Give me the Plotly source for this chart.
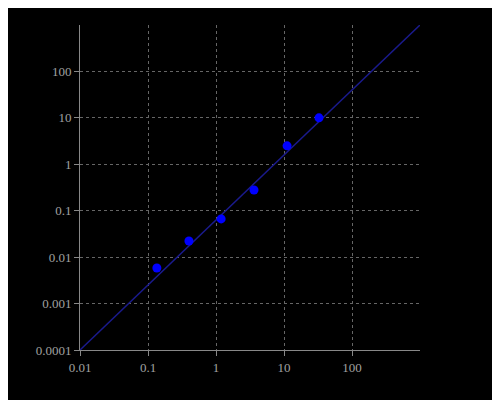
import plotly.graph_objects as go

x_pts = [0.135, 0.40, 1.19, 3.62, 11.1, 32.7]
y_pts = [0.00585, 0.0223, 0.0665, 0.28, 2.5, 10.0]
x_fit = [0.01, 1000]
y_fit = [0.0001, 1000]
x_ticks = [0.01, 0.1, 1, 10, 100]
x_labels = ["0.01", "0.1", "1", "10", "100"]
y_ticks = [0.0001, 0.001, 0.01, 0.1, 1, 10, 100]
y_labels = ["0.0001", "0.001", "0.01", "0.1", "1", "10", "100"]

fig = go.Figure()
fig.add_trace(go.Scatter(x=x_fit, y=y_fit, mode="lines",
                         line=dict(color="#1a1a8c", width=1.5), hoverinfo="skip"))
fig.add_trace(go.Scatter(x=x_pts, y=y_pts, mode="markers",
                         marker=dict(color="#0000ff", size=9)))
ax = dict(type="log", showgrid=True, gridcolor="#666", griddash="dot",
          showline=True, linecolor="#888", ticks="outside", tickcolor="#888",
          ticklen=5, zeroline=False, tickfont=dict(family="Liberation Serif", size=13, color="#a0a0a0"))
fig.update_xaxes(**ax, range=[-2, 3], tickvals=x_ticks, ticktext=x_labels)
fig.update_yaxes(**ax, range=[-4, 3], tickvals=y_ticks, ticktext=y_labels)
fig.update_layout(width=492, height=392, paper_bgcolor="black", plot_bgcolor="black",
                  showlegend=False, margin=dict(l=72, r=80, t=17, b=50))
fig.write_html("out.html")
